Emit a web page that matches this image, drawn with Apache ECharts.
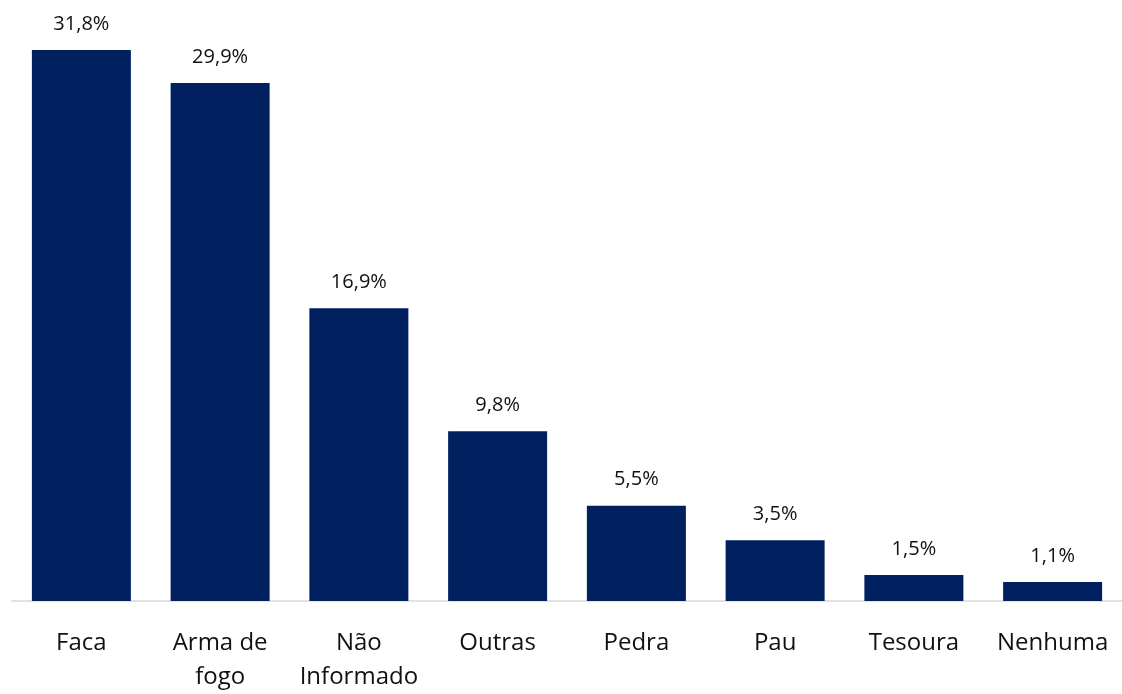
<!DOCTYPE html>
<html>
<head>
<meta charset="utf-8">
<script src="https://cdn.jsdelivr.net/npm/echarts@6/dist/echarts.min.js"></script>
<style>
  html, body { margin: 0; padding: 0; background: #ffffff; overflow: hidden; }
  #chart { width: 1122px; height: 694px; }
</style>
</head>
<body>
<div id="chart"></div>
<script>
// Categories (instrument used) and their shares in percent
const categories = ['Faca', 'Arma de\nfogo', 'Não\nInformado', 'Outras', 'Pedra', 'Pau', 'Tesoura', 'Nenhuma'];
const shares = [31.8, 29.9, 16.9, 9.8, 5.5, 3.5, 1.5, 1.1];

const chart = echarts.init(document.getElementById('chart'), null, { renderer: 'canvas' });

chart.setOption({
  backgroundColor: '#ffffff',
  animation: false,
  grid: { left: 12, width: 1115, top: 50, height: 557, containLabel: false },
  xAxis: {
    type: 'category',
    data: categories,
    axisLine: { show: true, lineStyle: { color: '#d9d9d9', width: 1.5 } },
    axisTick: { show: false },
    axisLabel: {
      interval: 0,
      margin: 25,
      color: '#111111',
      fontFamily: 'Open Sans',
      fontSize: 24,
      lineHeight: 34
    }
  },
  yAxis: {
    type: 'value',
    min: 0,
    max: 31.8,
    show: false,
    splitLine: { show: false }
  },
  series: [{
    type: 'bar',
    data: shares,
    barWidth: 99,
    itemStyle: { color: '#002060' },
    label: {
      show: true,
      position: 'top',
      distance: 16,
      color: '#111111',
      fontFamily: 'Open Sans',
      fontSize: 20,
      formatter: p => p.value.toFixed(1).replace('.', ',') + '%'
    }
  }]
});
</script>
</body>
</html>
